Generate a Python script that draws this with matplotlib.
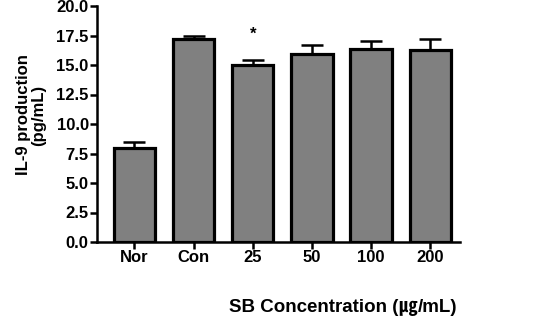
import numpy as np
import matplotlib
matplotlib.use("Agg")
import matplotlib.pyplot as plt

groups = ["Nor", "Con", "25", "50", "100", "200"]
il9 = [8.0, 17.2, 15.0, 15.9, 16.35, 16.3]
sem = [0.45, 0.25, 0.4, 0.8, 0.65, 0.9]
yticks = [0.0, 2.5, 5.0, 7.5, 10.0, 12.5, 15.0, 17.5, 20.0]
star_group = 2
star_y = 17.6

plt.rcParams['font.family'] = ['Liberation Sans', 'Noto Sans CJK KR', 'DejaVu Sans']
plt.rcParams['font.weight'] = 'bold'

fig = plt.figure(figsize=(5.36, 3.27), dpi=100)
ax = fig.add_axes([97/536, 1 - 242/327, (460 - 97)/536, (242 - 6)/327])

x = np.arange(len(groups))
ax.errorbar(x, il9, yerr=[np.zeros(len(sem)), sem], fmt='none', ecolor='black',
            elinewidth=1.8, capsize=8, capthick=1.8, zorder=1)
ax.bar(x, il9, width=0.7, color='#808080', edgecolor='black', linewidth=2.3, zorder=2)
ax.text(star_group, star_y, "*", ha='center', va='center', fontsize=12, fontweight='bold')

ax.set_xlim(-0.63, 5.5)
ax.set_ylim(0, 20)
ax.set_yticks(yticks)
ax.set_yticklabels([f"{v:.1f}" for v in yticks])
ax.set_xticks(x)
ax.set_xticklabels(groups)

for s in ['top', 'right']:
    ax.spines[s].set_visible(False)
for s in ['left', 'bottom']:
    ax.spines[s].set_linewidth(1.8)
ax.tick_params(axis='both', length=5, width=1.8, labelsize=12, pad=1)
for lab in ax.get_xticklabels() + ax.get_yticklabels():
    lab.set_fontweight('bold')

fig.text(31/536, 1 - 115/327, "IL-9 production\n(pg/mL)", rotation=90, ha='center',
         va='center', fontsize=12, fontweight='bold', linespacing=1.05, multialignment='center')

# x label built from pieces so the square unit sign comes from a CJK font
pieces = [("SB Concentration (", ['Liberation Sans']),
          ("㎍", ['Noto Sans CJK KR']),
          ("/mL)", ['Liberation Sans'])]
renderer = fig.canvas.get_renderer()
texts = []
for s, fam in pieces:
    t = fig.text(0, 1 - 307/327, s, ha='left', va='center', fontsize=13.5,
                 fontweight='bold', family=fam)
    texts.append(t)
widths = [t.get_window_extent(renderer).width for t in texts]
xpos = 343 - sum(widths) / 2
for t, w in zip(texts, widths):
    t.set_x(xpos / 536)
    xpos += w

fig.savefig("out.png", dpi=100)
